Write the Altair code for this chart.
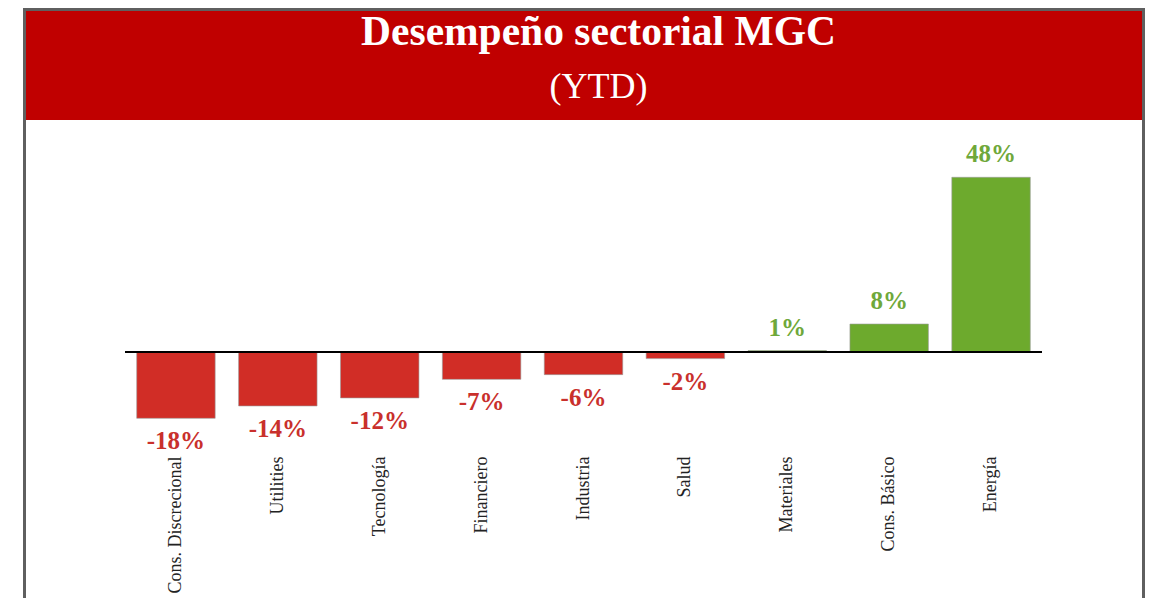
import altair as alt
import pandas as pd

sectores = ["Cons. Discrecional", "Utilities", "Tecnología", "Financiero", "Industria",
            "Salud", "Materiales", "Cons. Básico", "Energía"]
valores = [-18.2, -14.8, -12.6, -7.5, -6.2, -1.8, 0.4, 7.7, 48.0]
etiquetas = ["-18%", "-14%", "-12%", "-7%", "-6%", "-2%", "1%", "8%", "48%"]

titulo = "Desempeño sectorial MGC"
subtitulo = "(YTD)"

df = pd.DataFrame({"sector": sectores, "valor": valores, "etiqueta": etiquetas})

SERIF = "Liberation Serif"
RED_BAR = "#D12D26"
GREEN_BAR = "#6DAA2D"
RED_TXT = "#C9302C"
GREEN_TXT = "#6FA83A"

x_enc = alt.X("sector:N", sort=sectores, title=None,
              scale=alt.Scale(paddingInner=0.23, paddingOuter=0.115),
              axis=alt.Axis(labelAngle=270, labelFont=SERIF, labelFontSize=18,
                            labelColor="#222222", domain=False, ticks=False,
                            labelPadding=6, grid=False))
y_scale = alt.Scale(domain=[-26.9, 52.2], nice=False)
y_enc = alt.Y("valor:Q", title=None, scale=y_scale, axis=None)

base = alt.Chart(df)

bars = base.mark_bar(stroke="#9a9a9a", strokeWidth=0.6).encode(
    x=x_enc, y=y_enc,
    color=alt.condition(alt.datum.valor < 0, alt.value(RED_BAR), alt.value(GREEN_BAR)),
)

zero = base.transform_calculate(cero="0").mark_rule(color="#000000", strokeWidth=1.5).encode(
    y=alt.Y("cero:Q", title=None, scale=y_scale, axis=None)
)

lab_pos = base.transform_filter(alt.datum.valor >= 0).mark_text(
    font=SERIF, fontWeight="bold", fontSize=25, baseline="middle", dy=-23,
    color=GREEN_TXT
).encode(x=x_enc, y=y_enc, text="etiqueta:N")

lab_neg = base.transform_filter(alt.datum.valor < 0).mark_text(
    font=SERIF, fontWeight="bold", fontSize=25, baseline="middle", dy=23,
    color=RED_TXT
).encode(x=x_enc, y=y_enc, text="etiqueta:N")

data_layer = alt.layer(bars, zero, lab_pos, lab_neg)

one = pd.DataFrame({"t1": [titulo], "t2": [subtitulo]})

deco = alt.Chart(one).transform_calculate(
    bx1="-100.5", bx2="1018.5", by1="-152.5", by2="600",
    rx1="-99", rx2="1017", ry1="-151", ry2="-42",
    tx="473.5", ty1="-117", ty2="-64",
)

border = deco.mark_rect(fillOpacity=0, stroke="#5f5f5f", strokeWidth=3).encode(
    x=alt.X("bx1:Q", scale=None, axis=None), x2="bx2:Q",
    y=alt.Y("by1:Q", scale=None, axis=None), y2="by2:Q",
)
banner = deco.mark_rect(color="#C00000").encode(
    x=alt.X("rx1:Q", scale=None, axis=None), x2="rx2:Q",
    y=alt.Y("ry1:Q", scale=None, axis=None), y2="ry2:Q",
)
t1 = deco.mark_text(font=SERIF, fontWeight="bold", fontSize=41.5, color="white",
                    align="center", baseline="alphabetic").encode(
    x=alt.X("tx:Q", scale=None, axis=None), y=alt.Y("ty1:Q", scale=None, axis=None),
    text="t1:N")
t2 = deco.mark_text(font=SERIF, fontSize=36, color="white",
                    align="center", baseline="alphabetic").encode(
    x=alt.X("tx:Q", scale=None, axis=None), y=alt.Y("ty2:Q", scale=None, axis=None),
    text="t2:N")

deco_layer = alt.layer(border, banner, t1, t2).resolve_scale(
    x="independent", y="independent")

chart = alt.layer(deco_layer, data_layer).resolve_scale(
    x="independent", y="independent"
).properties(
    width=917, height=288,
    autosize=alt.AutoSizeParams(type="none"),
    padding={"left": 117, "top": 154, "right": 103, "bottom": 148},
    background="white",
).configure_view(stroke=None)

chart.save("out.html", embed_options={"renderer": "svg", "actions": False})
